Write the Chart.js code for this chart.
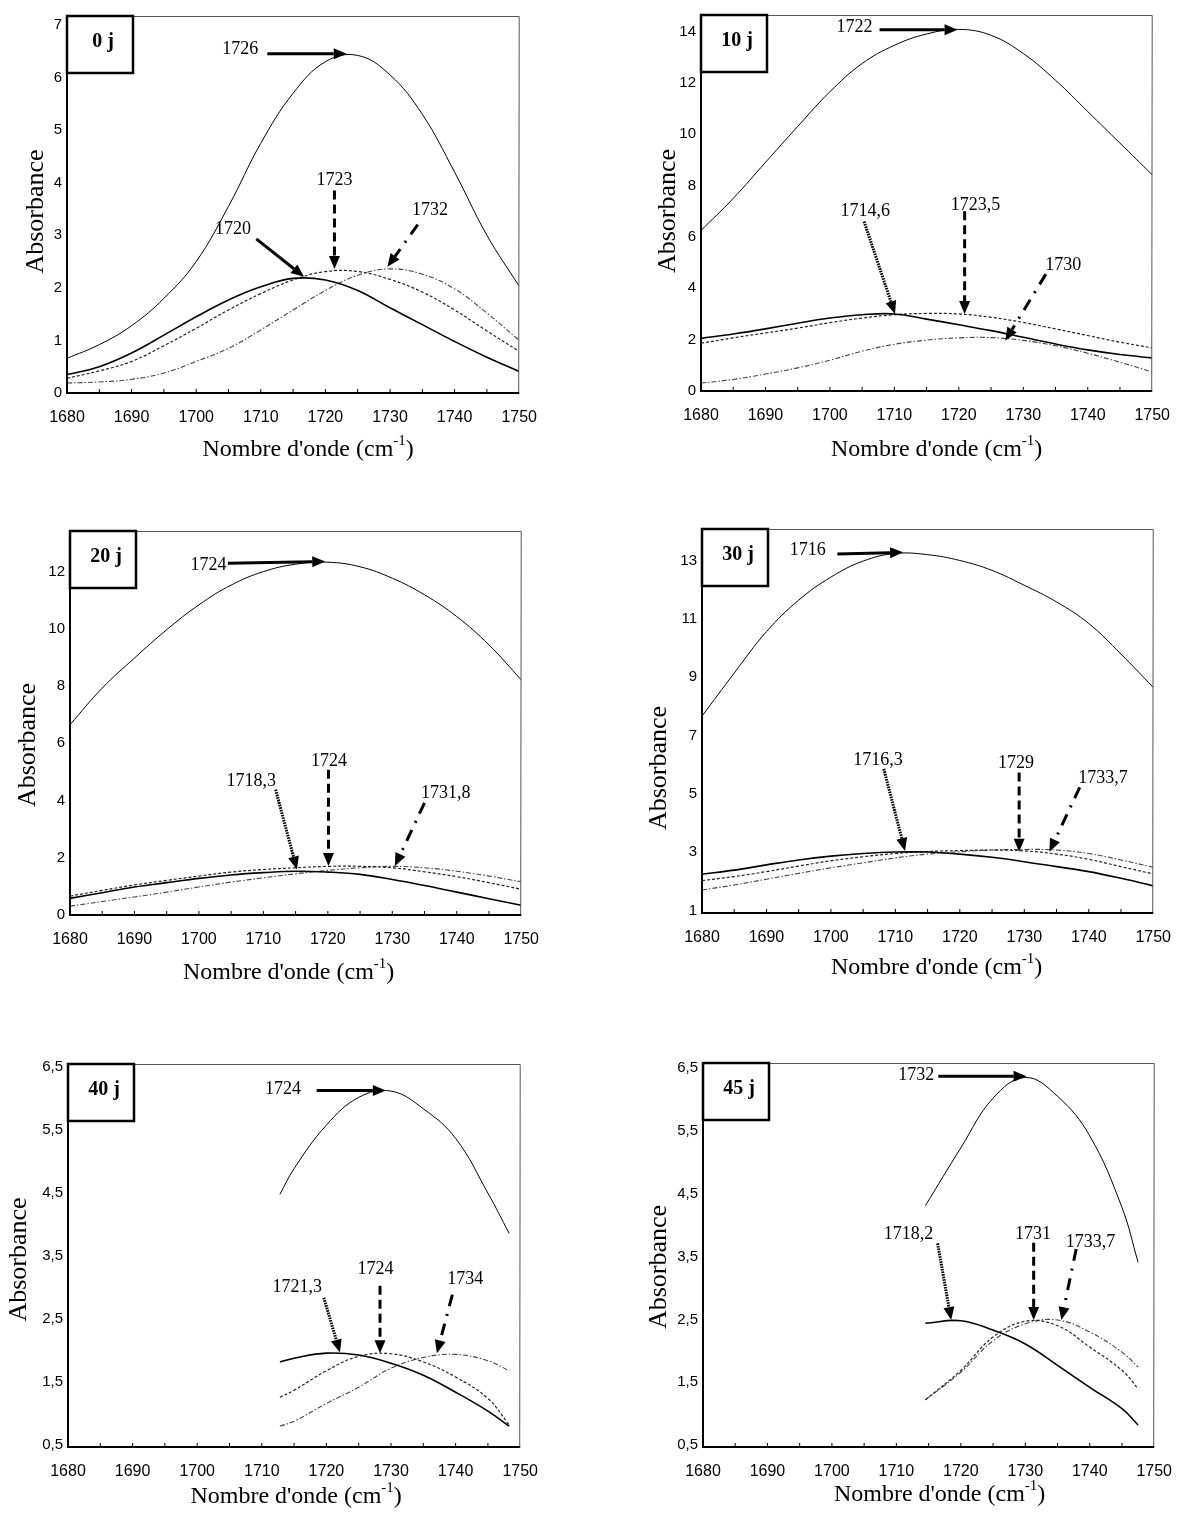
<!DOCTYPE html>
<html>
<head>
<meta charset="utf-8">
<script src="https://cdn.jsdelivr.net/npm/chart.js@4.4.0/dist/chart.umd.min.js"></script>
<style>
  body { margin: 0; background: #fff; width: 1180px; height: 1515px; position: relative; overflow: hidden; }
  canvas { position: absolute; }
</style>
</head>
<body>
<canvas id="c0"></canvas>
<canvas id="c10"></canvas>
<canvas id="c20"></canvas>
<canvas id="c30"></canvas>
<canvas id="c40"></canvas>
<canvas id="c45"></canvas>
<script>
// wavenumbers (cm-1)
const wavenumbers = [1680, 1685, 1690, 1695, 1700, 1705, 1710, 1715, 1720, 1725, 1730, 1735, 1740, 1745, 1750];
const wn40 = [1712.8, 1715, 1720, 1725, 1730, 1735, 1740, 1745, 1748.3];
const wn45 = [1714.5, 1720, 1725, 1730, 1735, 1740, 1745, 1747.5];
const xTicks = [1680, 1690, 1700, 1710, 1720, 1730, 1740, 1750];

// 0 j
const j0Top = [0.66, 0.92, 1.28, 1.8, 2.5, 3.55, 4.75, 5.7, 6.3, 6.42, 6.05, 5.3, 4.2, 3.0, 2.03];
const j0Solid = [0.35, 0.5, 0.76, 1.1, 1.45, 1.77, 2.02, 2.18, 2.15, 1.95, 1.62, 1.3, 0.98, 0.68, 0.41];
const j0Dash = [0.28, 0.42, 0.6, 0.9, 1.23, 1.58, 1.89, 2.15, 2.31, 2.31, 2.16, 1.92, 1.58, 1.18, 0.79];
const j0DashDot = [0.19, 0.21, 0.26, 0.38, 0.6, 0.85, 1.2, 1.58, 1.95, 2.24, 2.36, 2.26, 1.98, 1.52, 1.0];
const yTicks0 = [0, 1, 2, 3, 4, 5, 6, 7];

// 10 j
const j10Top = [6.25, 7.5, 8.9, 10.3, 11.65, 12.75, 13.46, 13.9, 14.08, 13.85, 13.14, 12.1, 10.88, 9.65, 8.42];
const j10Solid = [2.05, 2.22, 2.42, 2.64, 2.84, 2.97, 3.0, 2.8, 2.58, 2.35, 2.09, 1.83, 1.6, 1.42, 1.29];
const j10Dash = [1.86, 2.07, 2.26, 2.45, 2.66, 2.84, 2.97, 3.02, 3.0, 2.87, 2.67, 2.42, 2.16, 1.9, 1.68];
const j10DashDot = [0.31, 0.45, 0.66, 0.9, 1.2, 1.55, 1.82, 1.98, 2.07, 2.08, 1.97, 1.76, 1.47, 1.12, 0.74];
const yTicks10 = [0, 2, 4, 6, 8, 10, 12, 14];

// 20 j
const j20Top = [6.65, 7.93, 8.98, 9.97, 10.84, 11.53, 12.0, 12.26, 12.33, 12.17, 11.77, 11.19, 10.43, 9.44, 8.22];
const j20Solid = [0.58, 0.78, 0.98, 1.13, 1.28, 1.4, 1.48, 1.53, 1.5, 1.42, 1.24, 1.03, 0.8, 0.57, 0.34];
const j20Dash = [0.66, 0.86, 1.05, 1.21, 1.36, 1.5, 1.59, 1.65, 1.7, 1.7, 1.65, 1.51, 1.34, 1.13, 0.9];
const j20DashDot = [0.31, 0.47, 0.63, 0.8, 0.98, 1.15, 1.3, 1.44, 1.56, 1.65, 1.7, 1.65, 1.53, 1.36, 1.16];
const yTicks20 = [0, 2, 4, 6, 8, 10, 12];

// 30 j
const j30Top = [7.66, 9.14, 10.56, 11.64, 12.43, 12.98, 13.24, 13.2, 13.0, 12.66, 12.15, 11.58, 10.84, 9.79, 8.65];
const j30Solid = [2.24, 2.38, 2.56, 2.73, 2.86, 2.95, 3.0, 3.0, 2.93, 2.82, 2.67, 2.5, 2.33, 2.1, 1.84];
const j30Dash = [2.02, 2.16, 2.33, 2.52, 2.7, 2.84, 2.95, 3.02, 3.05, 3.07, 3.04, 2.93, 2.75, 2.5, 2.25];
const j30DashDot = [1.7, 1.87, 2.07, 2.27, 2.46, 2.63, 2.8, 2.93, 3.01, 3.07, 3.09, 3.07, 2.95, 2.73, 2.48];
const yTicks30 = [1, 3, 5, 7, 9, 11, 13];

// 40 j
const j40Top = [4.48, 4.89, 5.58, 6.02, 6.12, 5.84, 5.37, 4.5, 3.86];
const j40Solid = [1.82, 1.88, 1.96, 1.93, 1.8, 1.61, 1.34, 1.04, 0.8];
const j40Dash = [1.26, 1.37, 1.68, 1.91, 1.95, 1.82, 1.58, 1.24, 0.82];
const j40DashDot = [0.8, 0.88, 1.16, 1.42, 1.72, 1.89, 1.94, 1.84, 1.68];
const yTicks40 = [0.5, 1.5, 2.5, 3.5, 4.5, 5.5, 6.5];

// 45 j
const j45Top = [4.31, 5.23, 6.02, 6.35, 6.05, 5.42, 4.28, 3.41];
const j45Solid = [2.44, 2.48, 2.33, 2.11, 1.77, 1.42, 1.08, 0.82];
const j45Dash = [1.22, 1.69, 2.22, 2.47, 2.4, 2.06, 1.69, 1.4];
const j45DashDot = [1.22, 1.66, 2.16, 2.43, 2.49, 2.3, 1.98, 1.74];
const yTicks45 = [0.5, 1.5, 2.5, 3.5, 4.5, 5.5, 6.5];

// peak labels: text spot, arrow tail -> head (data units)
const notes0 = [
  { text: '1726', at: [1706.8, 6.53], from: [1711, 6.45], to: [1723.3, 6.45], kind: 'solid' },
  { text: '1720', at: [1705.7, 3.12], from: [1709.3, 2.93], to: [1716.7, 2.21], kind: 'solid' },
  { text: '1723', at: [1721.4, 4.04], from: [1721.4, 3.85], to: [1721.4, 2.36], kind: 'dash' },
  { text: '1732', at: [1736.2, 3.48], from: [1734.3, 3.2], to: [1729.6, 2.4], kind: 'dashdot' }
];
const notes10 = [
  { text: '1722', at: [1703.8, 14.17], from: [1707.7, 14.07], to: [1719.8, 14.07], kind: 'solid' },
  { text: '1714,6', at: [1705.5, 7.0], from: [1705.3, 6.6], to: [1710.1, 3.0], kind: 'dot' },
  { text: '1723,5', at: [1722.6, 7.23], from: [1720.9, 7.0], to: [1720.9, 3.0], kind: 'dash' },
  { text: '1730', at: [1736.2, 4.9], from: [1733.5, 4.55], to: [1727.2, 1.96], kind: 'dashdot' }
];
const notes20 = [
  { text: '1724', at: [1701.5, 12.23], from: [1704.5, 12.29], to: [1719.6, 12.35], kind: 'solid' },
  { text: '1718,3', at: [1708.1, 4.67], from: [1711.9, 4.38], to: [1715.2, 1.59], kind: 'dot' },
  { text: '1724', at: [1720.2, 5.37], from: [1720.1, 5.08], to: [1720.1, 1.71], kind: 'dash' },
  { text: '1731,8', at: [1738.3, 4.27], from: [1735, 3.92], to: [1730.4, 1.71], kind: 'dashdot' }
];
const notes30 = [
  { text: '1716', at: [1696.4, 13.34], from: [1701, 13.22], to: [1711.2, 13.28], kind: 'solid' },
  { text: '1716,3', at: [1707.3, 6.15], from: [1708.2, 5.85], to: [1711.5, 3.04], kind: 'dot' },
  { text: '1729', at: [1728.7, 6.04], from: [1729.2, 5.73], to: [1729.2, 3.01], kind: 'dash' },
  { text: '1733,7', at: [1742.2, 5.54], from: [1738.6, 5.22], to: [1733.9, 3.01], kind: 'dashdot' }
];
const notes40 = [
  { text: '1724', at: [1713.3, 6.15], from: [1718.5, 6.13], to: [1729.2, 6.13], kind: 'solid' },
  { text: '1721,3', at: [1715.5, 3.0], from: [1719.6, 2.84], to: [1722.1, 1.97], kind: 'dot' },
  { text: '1724', at: [1727.6, 3.29], from: [1728.3, 3.03], to: [1728.3, 1.96], kind: 'dash' },
  { text: '1734', at: [1741.5, 3.13], from: [1739.5, 2.89], to: [1737.1, 1.96], kind: 'dashdot' }
];
const notes45 = [
  { text: '1732', at: [1713.1, 6.38], from: [1716.5, 6.37], to: [1730.2, 6.37], kind: 'solid' },
  { text: '1718,2', at: [1711.9, 3.86], from: [1716.4, 3.71], to: [1718.5, 2.49], kind: 'dot' },
  { text: '1731', at: [1731.2, 3.86], from: [1731.3, 3.72], to: [1731.3, 2.49], kind: 'dash' },
  { text: '1733,7', at: [1740.1, 3.72], from: [1737.9, 3.62], to: [1735.6, 2.49], kind: 'dashdot' }
];

// page layout: plot rectangle [left, top, right, bottom] and title offsets
const panels = [
  { id: 'c0', day: '0 j', plot: [67, 14, 522, 393], y: [0, 7.17], yTicks: yTicks0, xs: wavenumbers,
    series: [j0Top, j0Solid, j0Dash, j0DashDot], notes: notes0, yt: [31, 7], xt: [15, 57] },
  { id: 'c10', day: '10 j', plot: [701, 13, 1155, 391], y: [0, 14.64], yTicks: yTicks10, xs: wavenumbers,
    series: [j10Top, j10Solid, j10Dash, j10DashDot], notes: notes10, yt: [33, 8], xt: [10, 59] },
  { id: 'c20', day: '20 j', plot: [70, 529, 524, 915], y: [0, 13.42], yTicks: yTicks20, xs: wavenumbers,
    series: [j20Top, j20Solid, j20Dash, j20DashDot], notes: notes20, yt: [42, 22], xt: [-7, 58] },
  { id: 'c30', day: '30 j', plot: [702, 527, 1156, 913], y: [0.91, 14.08], yTicks: yTicks30, xs: wavenumbers,
    series: [j30Top, j30Solid, j30Dash, j30DashDot], notes: notes30, yt: [43, 47], xt: [9, 55] },
  { id: 'c40', day: '40 j', plot: [68, 1062, 523, 1447], y: [0.47, 6.55], yTicks: yTicks40, xs: wn40,
    series: [j40Top, j40Solid, j40Dash, j40DashDot], notes: notes40, yt: [49, 4], xt: [2, 50] },
  { id: 'c45', day: '45 j', plot: [703, 1061, 1157, 1447], y: [0.47, 6.58], yTicks: yTicks45, xs: wn45,
    series: [j45Top, j45Solid, j45Dash, j45DashDot], notes: notes45, yt: [43.5, 12], xt: [11, 48] }
];

const lineStyles = [
  { borderColor: '#000', borderWidth: 1 },
  { borderColor: '#000', borderWidth: 1.6 },
  { borderColor: '#222', borderWidth: 1.2, borderDash: [3, 2] },
  { borderColor: '#444', borderWidth: 1.1, borderDash: [5, 2, 1.5, 2] }
];
const arrowDash = { solid: [], dot: [1.6, 1], dash: [9, 5], dashdot: [12, 8, 2, 8] };

const PAD_L = 66, PAD_T = 12, PAD_R = 30, PAD_B = 90;
const serif = "'Liberation Serif', 'Times New Roman', serif";
const sans = "'Liberation Sans', Arial, sans-serif";

function drawArrow(ctx, x1, y1, x2, y2, dash) {
  const ang = Math.atan2(y2 - y1, x2 - x1);
  const head = 13, half = 5.5;
  const bx = x2 - head * Math.cos(ang), by = y2 - head * Math.sin(ang);
  ctx.lineWidth = 3;
  ctx.setLineDash(dash);
  ctx.beginPath();
  ctx.moveTo(x1, y1);
  ctx.lineTo(bx, by);
  ctx.stroke();
  ctx.setLineDash([]);
  ctx.beginPath();
  ctx.moveTo(x2, y2);
  ctx.lineTo(bx + half * Math.sin(ang), by - half * Math.cos(ang));
  ctx.lineTo(bx - half * Math.sin(ang), by + half * Math.cos(ang));
  ctx.closePath();
  ctx.fill();
}

const decor = {
  id: 'decor',
  afterDatasetsDraw(chart, args, opts) {
    const { ctx, chartArea: a, scales: { x, y } } = chart;
    ctx.save();
    ctx.strokeStyle = '#000';
    ctx.fillStyle = '#000';

    // frame
    ctx.lineWidth = 1;
    ctx.strokeStyle = '#555';
    ctx.beginPath();
    ctx.moveTo(a.left, a.top + 0.5);
    ctx.lineTo(a.right, a.top + 0.5);
    ctx.lineTo(a.right - 0.5, a.bottom);
    ctx.stroke();
    ctx.strokeStyle = '#000';
    ctx.lineWidth = 2;
    ctx.beginPath();
    ctx.moveTo(a.left, a.top);
    ctx.lineTo(a.left, a.bottom);
    ctx.lineTo(a.right, a.bottom);
    ctx.stroke();

    // small inward ticks every 5 cm-1
    ctx.lineWidth = 1;
    for (let v = 1685; v < 1750; v += 5) {
      const px = x.getPixelForValue(v);
      ctx.beginPath();
      ctx.moveTo(px, a.bottom);
      ctx.lineTo(px, a.bottom - 4);
      ctx.stroke();
    }

    // day box
    ctx.lineWidth = 2.5;
    ctx.strokeRect(a.left, a.top, 66, 57);
    ctx.font = 'bold 20px ' + serif;
    ctx.textAlign = 'center';
    ctx.textBaseline = 'middle';
    ctx.fillText(opts.day, a.left + 36, a.top + 26);

    // peak labels and arrows
    ctx.font = '18px ' + serif;
    opts.notes.forEach(n => {
      ctx.fillText(n.text, x.getPixelForValue(n.at[0]), y.getPixelForValue(n.at[1]));
      drawArrow(ctx,
        x.getPixelForValue(n.from[0]), y.getPixelForValue(n.from[1]),
        x.getPixelForValue(n.to[0]), y.getPixelForValue(n.to[1]),
        arrowDash[n.kind]);
    });

    // axis titles
    ctx.font = '26px ' + serif;
    ctx.save();
    ctx.translate(a.left - opts.yt[0], (a.top + a.bottom) / 2 + opts.yt[1]);
    ctx.rotate(-Math.PI / 2);
    ctx.fillText('Absorbance', 0, 0);
    ctx.restore();

    const main = "Nombre d'onde (cm", sup = '-1';
    ctx.font = '24px ' + serif;
    const w1 = ctx.measureText(main).width;
    const w3 = ctx.measureText(')').width;
    ctx.font = '15px ' + serif;
    const w2 = ctx.measureText(sup).width;
    const cx = (a.left + a.right) / 2 + opts.xt[0] - (w1 + w2 + w3) / 2;
    const cy = a.bottom + opts.xt[1];
    ctx.textAlign = 'left';
    ctx.font = '24px ' + serif;
    ctx.fillText(main, cx, cy);
    ctx.font = '15px ' + serif;
    ctx.fillText(sup, cx + w1, cy - 9);
    ctx.font = '24px ' + serif;
    ctx.fillText(')', cx + w1 + w2, cy);
    ctx.restore();
  }
};

const fmt = v => String(v).replace('.', ',');

panels.forEach(p => {
  const [l, t, r, b] = p.plot;
  const cv = document.getElementById(p.id);
  cv.width = r - l + PAD_L + PAD_R;
  cv.height = b - t + PAD_T + PAD_B;
  cv.style.left = (l - PAD_L) + 'px';
  cv.style.top = (t - PAD_T) + 'px';

  const datasets = p.series.map((ys, i) => Object.assign({
    data: p.xs.map((xv, k) => ({ x: xv, y: ys[k] })),
    pointRadius: 0,
    fill: false,
    tension: 0.4
  }, lineStyles[i]));

  new Chart(cv, {
    type: 'line',
    data: { datasets },
    plugins: [decor],
    options: {
      responsive: false,
      animation: false,
      devicePixelRatio: 1,
      layout: { padding: { left: 0, top: PAD_T, right: PAD_R, bottom: 0 } },
      plugins: {
        legend: { display: false },
        tooltip: { enabled: false },
        decor: { day: p.day, notes: p.notes, yt: p.yt, xt: p.xt }
      },
      scales: {
        x: {
          type: 'linear',
          min: 1680,
          max: 1750,
          grid: { display: false, drawTicks: false },
          border: { display: false },
          afterBuildTicks: s => { s.ticks = xTicks.map(v => ({ value: v })); },
          afterFit: s => { s.height = PAD_B; },
          ticks: { color: '#000', padding: 15, maxRotation: 0, autoSkip: false,
            font: { family: sans, size: 16 }, callback: v => String(v) }
        },
        y: {
          type: 'linear',
          min: p.y[0],
          max: p.y[1],
          grid: { display: false, drawTicks: false },
          border: { display: false },
          afterBuildTicks: s => { s.ticks = p.yTicks.map(v => ({ value: v })); },
          afterFit: s => { s.width = PAD_L; },
          ticks: { color: '#000', padding: 5, autoSkip: false,
            font: { family: sans, size: 15 }, callback: v => fmt(v) }
        }
      }
    }
  });
});
</script>
</body>
</html>
